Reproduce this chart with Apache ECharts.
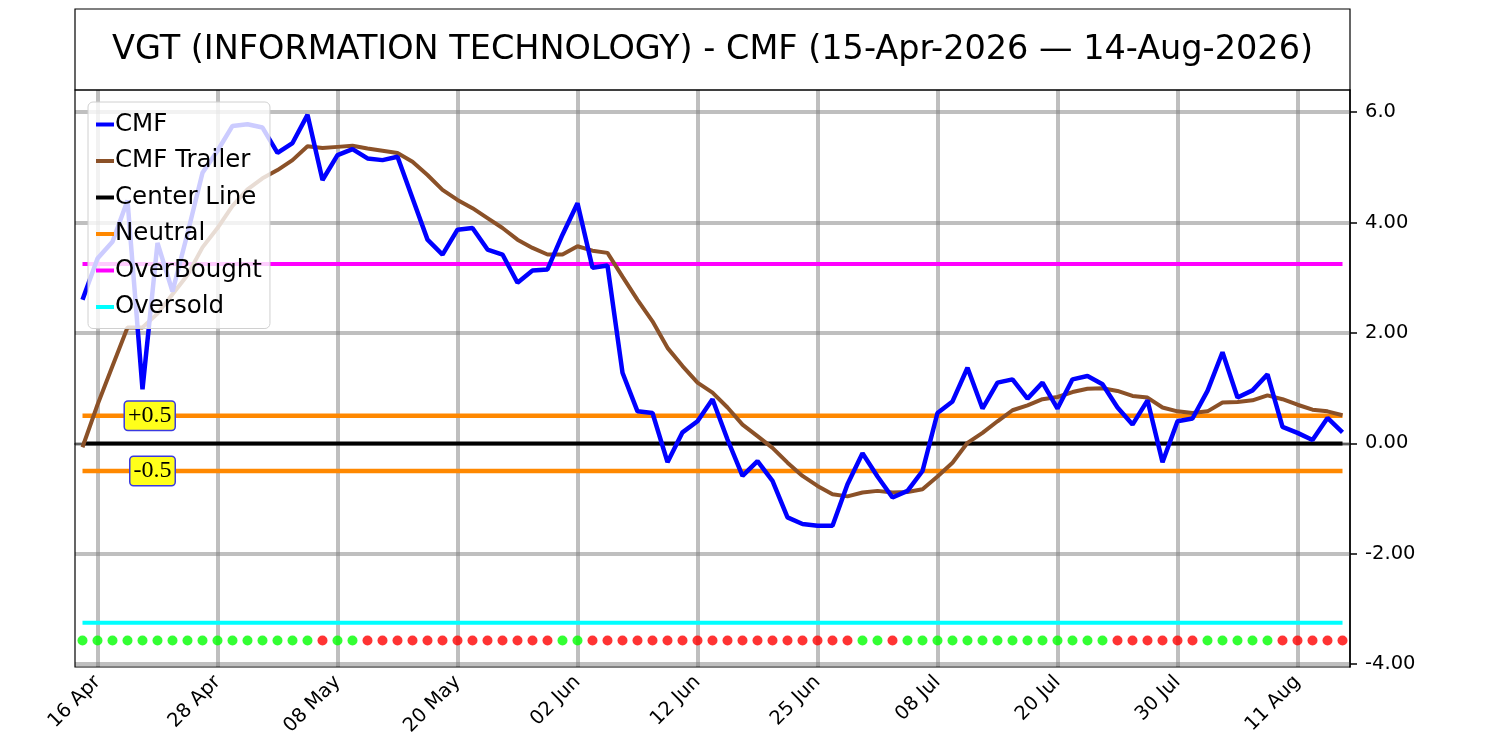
<!DOCTYPE html>
<html>
<head>
<meta charset="utf-8">
<script src="https://cdn.jsdelivr.net/npm/echarts@6/dist/echarts.min.js"></script>
<style>
  html, body { margin: 0; padding: 0; background: #fff; }
  #main { width: 1500px; height: 750px; }
</style>
</head>
<body>
<div id="main"></div>
<script>
// trading days 15 Apr - 14 Aug 2026
var dates = [
  '15 Apr','16 Apr','17 Apr','20 Apr','21 Apr','22 Apr','23 Apr','24 Apr','27 Apr','28 Apr','29 Apr','30 Apr',
  '01 May','04 May','05 May','06 May','07 May','08 May','11 May','12 May','13 May','14 May','15 May','18 May',
  '19 May','20 May','21 May','22 May','26 May','27 May','28 May','29 May',
  '01 Jun','02 Jun','03 Jun','04 Jun','05 Jun','08 Jun','09 Jun','10 Jun','11 Jun','12 Jun','15 Jun','16 Jun',
  '17 Jun','18 Jun','22 Jun','23 Jun','24 Jun','25 Jun','26 Jun','29 Jun','30 Jun',
  '01 Jul','02 Jul','06 Jul','07 Jul','08 Jul','09 Jul','10 Jul','13 Jul','14 Jul','15 Jul','16 Jul','17 Jul',
  '20 Jul','21 Jul','22 Jul','23 Jul','24 Jul','27 Jul','28 Jul','29 Jul','30 Jul','31 Jul',
  '03 Aug','04 Aug','05 Aug','06 Aug','07 Aug','10 Aug','11 Aug','12 Aug','13 Aug','14 Aug'
];
var tickDates = ['16 Apr','28 Apr','08 May','20 May','02 Jun','12 Jun','25 Jun','08 Jul','20 Jul','30 Jul','11 Aug'];

var cmf = [
  2.6, 3.35, 3.65, 4.4, 0.98, 3.63, 2.75, 3.8, 4.9, 5.3,
  5.75, 5.78, 5.72, 5.26, 5.44, 5.95, 4.77, 5.22, 5.33, 5.16,
  5.13, 5.19, 4.44, 3.69, 3.42, 3.87, 3.9, 3.51, 3.42, 2.91,
  3.13, 3.15, 3.78, 4.35, 3.18, 3.22, 1.28, 0.58, 0.55, -0.34,
  0.2, 0.4, 0.8, 0.07, -0.59, -0.32, -0.68, -1.34, -1.46, -1.49,
  -1.49, -0.74, -0.18, -0.6, -0.98, -0.86, -0.5, 0.55, 0.76, 1.37,
  0.63, 1.1, 1.16, 0.81, 1.1, 0.63, 1.16, 1.22, 1.07, 0.65,
  0.34, 0.78, -0.34, 0.4, 0.45, 0.95, 1.65, 0.83, 0.96, 1.25,
  0.3, 0.19, 0.06, 0.46, 0.2
];
var cmfTrailer = [
  -0.07, 0.7, 1.4, 2.1, 2.1, 2.35, 2.7, 3.05, 3.55, 3.9,
  4.3, 4.6, 4.8, 4.95, 5.13, 5.38, 5.35, 5.37, 5.39, 5.34,
  5.3, 5.26, 5.1, 4.86, 4.59, 4.41, 4.26, 4.08, 3.9, 3.69,
  3.54, 3.42, 3.42, 3.57, 3.49, 3.45, 3.02, 2.6, 2.21, 1.73,
  1.4, 1.1, 0.92, 0.65, 0.34, 0.13, -0.08, -0.35, -0.59, -0.77,
  -0.92, -0.96, -0.89, -0.86, -0.89, -0.88, -0.83, -0.6, -0.35, 0.01,
  0.19, 0.4, 0.6, 0.69, 0.8, 0.84, 0.93, 0.99, 1.0, 0.95,
  0.86, 0.83, 0.65, 0.58, 0.55, 0.58, 0.74, 0.75, 0.78, 0.87,
  0.8, 0.7, 0.61, 0.58, 0.51
];
// g = green dot, r = red dot
var signal = [
  'g','g','g','g','g','g','g','g','g','g','g','g','g','g','g','g','r','g','g','r',
  'r','r','r','r','r','r','r','r','r','r','r','r','g','g','r','r','r','r','r','r',
  'r','r','r','r','r','r','r','r','r','r','r','r','g','g','r','g','g','g','g','g',
  'g','g','g','g','g','g','g','g','g','r','r','r','r','r','r','g','g','g','g','g',
  'r','r','r','r','r'
];
var signalLevel = -3.57;
var centerLine = 0;
var neutralUp = 0.5;
var neutralDown = -0.5;
var overBought = 3.25;
var overSold = -3.25;
var yTicks = [-4, -2, 0, 2, 4, 6];
var yTickLabels = ['-4.00', '-2.00', '0.00', '2.00', '4.00', '6.0'];

var first = dates[0], last = dates[dates.length - 1];
function flat(v) { return [[first, v], [last, v]]; }

var gridStyle = { color: 'rgba(128,128,128,0.5)', width: 4, type: 'solid' };

var chart = echarts.init(document.getElementById('main'));
chart.setOption({
  animation: false,
  textStyle: { fontFamily: 'DejaVu Sans' },
  graphic: [
    { type: 'rect', shape: { x: 75, y: 9, width: 1275, height: 81 },
      style: { fill: 'none', stroke: '#000', lineWidth: 1.2 }, z: 10 },
    { type: 'rect', shape: { x: 75, y: 90, width: 1275, height: 577 },
      style: { fill: 'none', stroke: '#000', lineWidth: 1.2 }, z: 10 },
    { type: 'text', x: 712.5, y: 50,
      style: { text: 'VGT (INFORMATION TECHNOLOGY) - CMF (15-Apr-2026 \u2014 14-Aug-2026)',
        fontSize: 33.5, fontFamily: 'DejaVu Sans', fill: '#000', align: 'center', verticalAlign: 'middle' }, z: 10 }
  ],
  grid: { left: 75, right: 150, top: 90, bottom: 83 },
  legend: {
    data: ['CMF', 'CMF Trailer', 'Center Line', 'Neutral', 'OverBought', 'Oversold'],
    orient: 'vertical', left: 88, top: 102,
    icon: 'rect', itemWidth: 18, itemHeight: 4, itemGap: 11.5,
    padding: [10, 8, 9, 8],
    backgroundColor: 'rgba(255,255,255,0.8)', borderColor: '#d0d0d0', borderWidth: 1, borderRadius: 5,
    textStyle: { fontSize: 24.5, color: '#000', padding: [0, 0, 0, -4] }
  },
  xAxis: {
    type: 'category', data: dates, boundaryGap: true,
    axisLine: { lineStyle: { color: '#000', width: 1.5 } },
    axisTick: { alignWithLabel: true, interval: function (i, v) { return tickDates.indexOf(v) >= 0; },
      length: 7, lineStyle: { color: '#000', width: 1.5 } },
    axisLabel: { interval: function (i, v) { return tickDates.indexOf(v) >= 0; },
      rotate: 45, fontSize: 19.5, color: '#000', margin: 12 },
    splitLine: { show: false }
  },
  yAxis: {
    type: 'value', position: 'right', min: -4.05, max: 6.4,
    axisLine: { show: true, lineStyle: { color: '#000', width: 1.5 } },
    axisTick: { show: true, customValues: yTicks, length: 7, lineStyle: { color: '#000', width: 1.5 } },
    axisLabel: { customValues: yTicks, fontSize: 19.5, color: '#000', margin: 15,
      formatter: function (v) { var k = yTicks.indexOf(v); return k >= 0 ? yTickLabels[k] : ''; } },
    splitLine: { show: false }
  },
  series: [
    { name: 'grid', type: 'line', data: [], z: 1, silent: true,
      markLine: { silent: true, z: 1, symbol: 'none', label: { show: false }, lineStyle: gridStyle,
        data: tickDates.map(function (d) { return { xAxis: d }; })
          .concat(yTicks.map(function (v) { return { yAxis: v }; })) } },
    { name: 'OverBought', type: 'line', data: flat(overBought), showSymbol: false, silent: true,
      color: '#ff00ff', lineStyle: { color: '#ff00ff', width: 4 } },
    { name: 'Oversold', type: 'line', data: flat(overSold), showSymbol: false, silent: true,
      color: '#00ffff', lineStyle: { color: '#00ffff', width: 4 } },
    { name: 'Neutral', type: 'line', data: flat(neutralUp), showSymbol: false, silent: true,
      color: '#ff8800', lineStyle: { color: '#ff8800', width: 4.5 } },
    { name: 'Neutral', type: 'line', data: flat(neutralDown), showSymbol: false, silent: true,
      color: '#ff8800', lineStyle: { color: '#ff8800', width: 4.5 } },
    { name: 'Center Line', type: 'line', data: flat(centerLine), showSymbol: false, silent: true,
      color: '#000', lineStyle: { color: '#000', width: 4 } },
    { name: 'CMF Trailer', type: 'line', data: cmfTrailer, showSymbol: false,
      color: '#8b5128', lineStyle: { color: '#8b5128', width: 4 } },
    { name: 'CMF', type: 'line', data: cmf, showSymbol: false,
      color: '#0000ff', lineStyle: { color: '#0000ff', width: 4.5 },
      markPoint: {
        symbol: 'rect', symbolSize: 0, silent: true,
        label: { show: true, position: 'inside', align: 'right', verticalAlign: 'middle', offset: [2, 0],
          fontFamily: 'Liberation Serif', fontSize: 24, color: '#000',
          backgroundColor: '#ffff1a', borderColor: '#3a3ae0', borderWidth: 1.5, borderRadius: 3,
          padding: [3, 3, 1, 3],
          formatter: function (p) { return p.name; } },
        data: [
          { name: '+0.5', coord: [dates[6], neutralUp] },
          { name: '-0.5', coord: [dates[6], neutralDown] }
        ]
      } },
    { name: 'signal', type: 'scatter', symbolSize: 10, silent: true, z: 3,
      data: dates.map(function (d, i) {
        return { value: [d, signalLevel], itemStyle: { color: signal[i] === 'g' ? '#00ff00' : '#ff0000' } };
      }) }
  ]
});
</script>
</body>
</html>
